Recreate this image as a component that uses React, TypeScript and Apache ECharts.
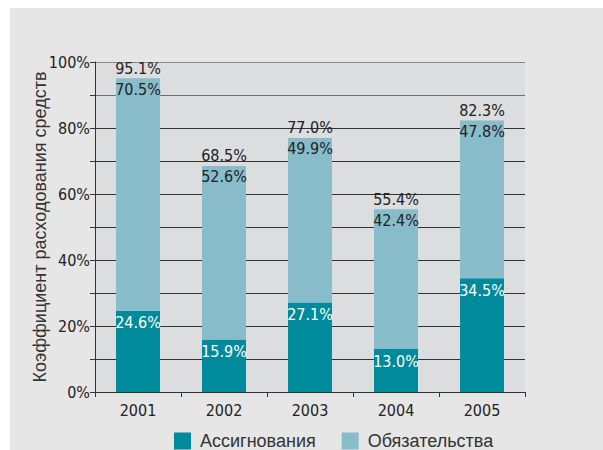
import React, { useEffect, useRef } from "react";
import * as echarts from "echarts";

const years = ["2001", "2002", "2003", "2004", "2005"];
const allocations = [24.6, 15.9, 27.1, 13.0, 34.5];
const obligations = [70.5, 52.6, 49.9, 42.4, 47.8];
const totals = [95.1, 68.5, 77.0, 55.4, 82.3];
const seriesNames = ["Ассигнования", "Обязательства"];
const yAxisTitle = "Коэффициент расходования средств";

const NARROW = "'DejaVu Sans Condensed', sans-serif";
const SANS = "'Liberation Sans', Arial, sans-serif";
const DARK = "#008b9d";
const LIGHT = "#88bcca";
const GRID_COLORS = ["#333", "#333", "#333", "#333", "#333", "#333", "#333", "#333", "#333", "#6f6f6f", "#888"];
const fmt = (v: number) => v.toFixed(1) + "%";

export default function App() {
  const ref = useRef<HTMLDivElement>(null);
  useEffect(() => {
    if (!ref.current) return;
    const chart = echarts.init(ref.current, null, { renderer: "svg" });
    chart.setOption({
      animation: false,
      backgroundColor: "#e6e6e6",
      grid: {
        left: 85,
        top: 54,
        width: 430,
        height: 330,
        show: true,
        backgroundColor: "#dcdddf",
        borderWidth: 0,
      },
      legend: {
        data: seriesNames,
        left: 159,
        top: 419,
        itemWidth: 17,
        itemHeight: 17,
        itemGap: 26,
        icon: "rect",
        textStyle: { fontFamily: SANS, fontSize: 18, color: "#333", padding: [0, 0, 0, 4] },
      },
      xAxis: {
        type: "category",
        data: years,
        axisLine: { lineStyle: { color: "#333", width: 1 } },
        axisTick: { show: true, length: 5, lineStyle: { color: "#333" } },
        axisLabel: { fontFamily: NARROW, fontSize: 16, color: "#222", margin: 10 },
      },
      yAxis: {
        type: "value",
        min: 0,
        max: 100,
        interval: 10,
        name: yAxisTitle,
        nameLocation: "middle",
        nameGap: 46,
        nameMoveOverlap: false,
        nameTextStyle: { fontFamily: SANS, fontSize: 18, color: "#333" },
        axisLine: { show: true, lineStyle: { color: "#333", width: 1 } },
        axisTick: { show: true, length: 5, lineStyle: { color: "#333" } },
        splitLine: { show: true, lineStyle: { color: GRID_COLORS, width: 1 } },
        axisLabel: {
          fontFamily: NARROW,
          fontSize: 16,
          color: "#222",
          margin: 5,
          formatter: (v: number) => (v % 20 === 0 ? v + "%" : ""),
        },
      },
      series: [
        {
          name: seriesNames[0],
          type: "bar",
          stack: "s",
          barWidth: 44,
          data: allocations,
          itemStyle: { color: DARK },
          label: {
            show: true,
            position: "insideTop",
            distance: 4,
            color: "#fff",
            fontFamily: NARROW,
            fontSize: 16,
            formatter: (p: any) => fmt(p.value),
          },
        },
        {
          name: seriesNames[1],
          type: "bar",
          stack: "s",
          barWidth: 44,
          data: obligations,
          itemStyle: { color: LIGHT },
          label: {
            show: true,
            position: "insideTop",
            distance: 3,
            color: "#222",
            fontFamily: NARROW,
            fontSize: 16,
            formatter: (p: any) => fmt(p.value),
          },
        },
        {
          name: "total",
          type: "bar",
          barWidth: 44,
          barGap: "-100%",
          data: totals,
          silent: true,
          itemStyle: { color: "rgba(0,0,0,0)" },
          label: {
            show: true,
            position: "top",
            distance: 2,
            color: "#222",
            fontFamily: NARROW,
            fontSize: 16,
            formatter: (p: any) => fmt(p.value),
          },
        },
      ],
    });
    return () => chart.dispose();
  }, []);
  return (
    <div
      ref={ref}
      style={{ position: "absolute", left: 10, top: 8, width: 593, height: 442 }}
    />
  );
}
